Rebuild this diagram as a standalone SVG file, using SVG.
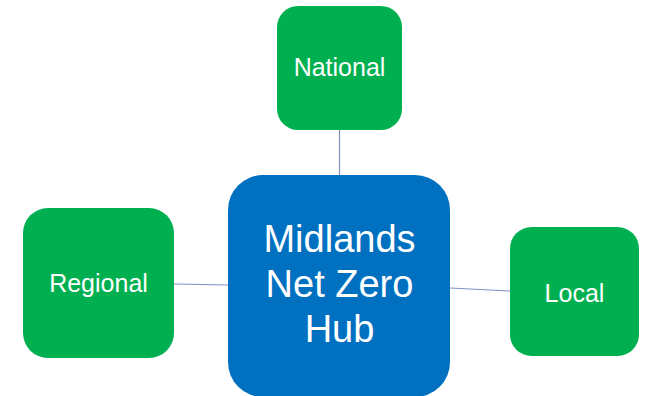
<svg xmlns="http://www.w3.org/2000/svg" width="648" height="396" viewBox="0 0 648 396">
  <style>
    .hub { fill: #0070C0; }
    .tier { fill: #00B050; }
    .label { fill: #FFFFFF; font-family: "Liberation Sans", Arial, sans-serif; text-anchor: middle; }
    .small { font-size: 25px; }
    .big { font-size: 38px; }
    .link { stroke: #7F92C4; stroke-width: 1.2; fill: none; }
  </style>
  <rect width="648" height="396" fill="#FFFFFF"/>

  <!-- links between the hub and each tier -->
  <g id="connectors">
    <line class="link" x1="339.5" y1="130" x2="339.5" y2="175"/>
    <line class="link" x1="174" y1="284" x2="228" y2="285"/>
    <line class="link" x1="450" y1="288" x2="510" y2="291"/>
  </g>

  <g id="hub">
    <rect class="hub" x="228" y="175" width="222" height="222" rx="35" ry="35"/>
    <text class="label big" x="339.5" y="252">Midlands</text>
    <text class="label big" x="339.5" y="297">Net Zero</text>
    <text class="label big" x="339.5" y="342">Hub</text>
  </g>

  <g id="national">
    <rect class="tier" x="277" y="6" width="125" height="124" rx="21" ry="21"/>
    <text class="label small" x="339.5" y="76">National</text>
  </g>

  <g id="regional">
    <rect class="tier" x="23" y="208" width="151" height="150" rx="25" ry="25"/>
    <text class="label small" x="98.5" y="292">Regional</text>
  </g>

  <g id="local">
    <rect class="tier" x="510" y="227" width="129" height="129" rx="21.5" ry="21.5"/>
    <text class="label small" x="574.5" y="302">Local</text>
  </g>
</svg>
